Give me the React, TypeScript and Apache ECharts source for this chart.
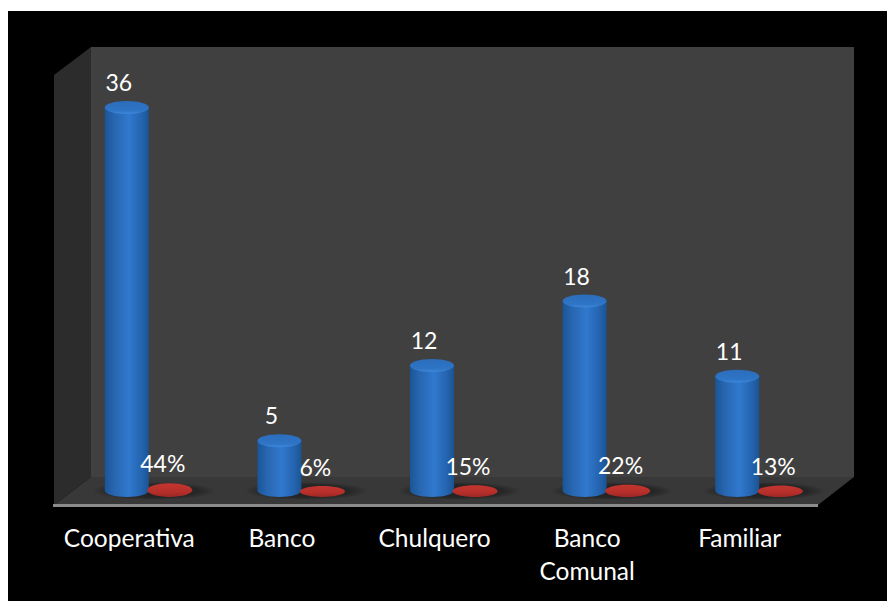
import React, { useEffect, useRef } from "react";
import * as echarts from "echarts";

const categories = ["Cooperativa", "Banco", "Chulquero", "Banco\nComunal", "Familiar"];
const counts = [36, 5, 12, 18, 11];
const shares = [0.44, 0.06, 0.15, 0.22, 0.13];

const FONT = "Lato, 'Open Sans', sans-serif";
const linear = (stops: [number, string][], x2 = 1, y2 = 0) =>
  new echarts.graphic.LinearGradient(0, 0, x2, y2, stops.map(([offset, color]) => ({ offset, color })));
const floorShadow = () =>
  new echarts.graphic.RadialGradient(0.5, 0.5, 0.5, [
    { offset: 0, color: "rgba(0,0,0,0.42)" },
    { offset: 0.7, color: "rgba(0,0,0,0.32)" },
    { offset: 1, color: "rgba(0,0,0,0)" },
  ]);
const bodyFill = () =>
  linear([
    [0, "#1a5596"],
    [0.22, "#2866b0"],
    [0.55, "#3079ce"],
    [0.85, "#2462ad"],
    [1, "#1a5493"],
  ]);

const renderCylinder = (_: any, api: any) => {
  const idx = api.value(0);
  const v = api.value(1);
  const [cx0, yTop] = api.coord([idx, v]);
  const [, y0] = api.coord([idx, 0]);
  const cx = cx0 - 21.5;
  const rx = 22;
  const ry = 6.5;
  const base = y0 - 4;
  return {
    type: "group",
    children: [
      { type: "ellipse", shape: { cx: cx + 27, cy: base + 0.5, rx: 62, ry: 9 }, style: { fill: floorShadow() } },
      {
        type: "rect",
        shape: { x: cx - rx, y: yTop, width: rx * 2, height: base - yTop },
        style: { fill: bodyFill() },
      },
      { type: "ellipse", shape: { cx, cy: base, rx, ry }, style: { fill: bodyFill() } },
      {
        type: "ellipse",
        shape: { cx, cy: yTop, rx, ry },
        style: { fill: linear([[0, "#2a6dbb"], [0.75, "#2f75c6"], [1, "#3f88da"]], 0, 1) },
      },
      {
        type: "text",
        style: {
          text: String(v),
          x: cx - 8,
          y: yTop - 25.5,
          fill: "#ffffff",
          font: `23px ${FONT}`,
          align: "center",
          verticalAlign: "middle",
        },
      },
    ],
  };
};

const renderDisk = (_: any, api: any) => {
  const idx = api.value(0);
  const v = api.value(1);
  const [cx0, yTop] = api.coord([idx, v]);
  const [, y0] = api.coord([idx, 0]);
  const cx = cx0 + 21.5;
  const h = y0 - yTop;
  const height = 10.5 + h * 0.7;
  const bottom = y0 + 2.5;
  return {
    type: "group",
    children: [
      {
        type: "ellipse",
        shape: { cx, cy: bottom - height / 2, rx: 22.5, ry: height / 2 },
        style: { fill: linear([[0, "#c4352f"], [0.6, "#b62f2a"], [1, "#9c2724"]], 0, 1) },
      },
      {
        type: "text",
        style: {
          text: `${Math.round(v * 100)}%`,
          x: cx - 7,
          y: yTop - 27,
          fill: "#ffffff",
          font: `23px ${FONT}`,
          align: "center",
          verticalAlign: "middle",
        },
      },
    ],
  };
};

export default function App() {
  const ref = useRef<HTMLDivElement>(null);
  useEffect(() => {
    document.body.style.margin = "0";
    document.body.style.overflow = "hidden";
    const chart = echarts.init(ref.current!, undefined, { renderer: "svg" });
    chart.setOption({
      animation: false,
      backgroundColor: "#ffffff",
      grid: { left: 72, width: 763, top: 64.5, height: 430 },
      xAxis: {
        type: "category",
        data: categories,
        axisLine: { show: false },
        axisTick: { show: false },
        axisLabel: {
          color: "#ffffff",
          fontFamily: FONT,
          fontSize: 24.5,
          lineHeight: 33,
          margin: 26,
          padding: [0, 38, 0, 0],
          interval: 0,
        },
      },
      yAxis: { type: "value", min: 0, max: 40, show: false, splitLine: { show: false } },
      graphic: [
        { type: "rect", z: -10, shape: { x: 8, y: 11, width: 879, height: 590 }, style: { fill: "#000000" } },
        { type: "rect", z: -9, shape: { x: 91, y: 47, width: 763, height: 430 }, style: { fill: "#404040" } },
        {
          type: "polygon",
          z: -9,
          shape: { points: [[54, 75], [91, 47], [91, 477], [54, 505]] },
          style: { fill: "#2c2c2c" },
        },
        {
          type: "polygon",
          z: -9,
          shape: { points: [[91, 477], [854, 477], [818, 505], [54, 505]] },
          style: { fill: "#383838" },
        },
        { type: "rect", z: -8, shape: { x: 53, y: 504, width: 765, height: 3 }, style: { fill: "#8c8c8c" } },
      ],
      series: [
        { type: "custom", renderItem: renderCylinder, encode: { x: 0, y: 1 }, data: counts.map((v, i) => [i, v]), clip: false },
        { type: "custom", renderItem: renderDisk, encode: { x: 0, y: 1 }, data: shares.map((v, i) => [i, v]), clip: false },
      ],
    });
    return () => chart.dispose();
  }, []);
  return <div ref={ref} style={{ width: 887, height: 601 }} />;
}
